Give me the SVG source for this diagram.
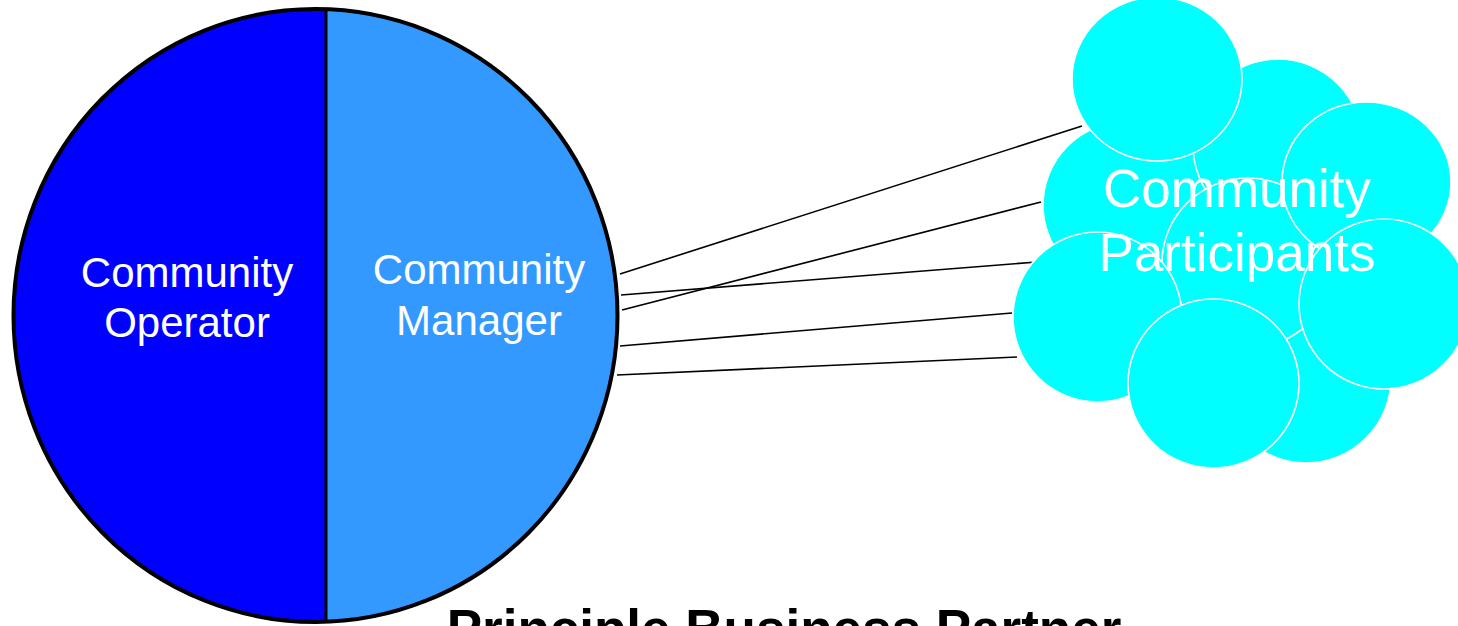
<svg xmlns="http://www.w3.org/2000/svg" width="1458" height="626" viewBox="0 0 1458 626">
  <style>
    .lbl { font-family: "Liberation Sans", Arial, sans-serif; fill: #FFFFFF; text-anchor: middle; }
    .bub { fill: #00FFFF; stroke: #FFFFFF; stroke-width: 1.6; }
    .conn { stroke: #000000; stroke-width: 1.6; fill: none; }
  </style>
  <defs>
    <clipPath id="mainClip">
      <ellipse cx="315.5" cy="315.5" rx="302" ry="306.5"/>
    </clipPath>
  </defs>
  <rect width="1458" height="626" fill="#FFFFFF"/>

  <g id="connectors">
    <line class="conn" x1="620" y1="274" x2="1082" y2="126"/>
    <line class="conn" x1="622" y1="310" x2="1041" y2="202"/>
    <line class="conn" x1="621" y1="295" x2="1037" y2="262"/>
    <line class="conn" x1="620" y1="346" x2="1012" y2="313"/>
    <line class="conn" x1="617" y1="375" x2="1017" y2="357"/>
  </g>

  <g id="node-business-partner">
    <g clip-path="url(#mainClip)">
      <rect x="0" y="0" width="326" height="626" fill="#0000FF"/>
      <rect x="326" y="0" width="300" height="626" fill="#3399FF"/>
    </g>
    <line x1="326" y1="9" x2="326" y2="622" stroke="#000000" stroke-width="3"/>
    <ellipse cx="315.5" cy="315.5" rx="302" ry="306.5" fill="none" stroke="#000000" stroke-width="4"/>
    <g id="node-operator">
      <text class="lbl" x="187" y="287" font-size="42">Community</text>
      <text class="lbl" x="187" y="337" font-size="42">Operator</text>
    </g>
    <g id="node-manager">
      <text class="lbl" x="479" y="284" font-size="42">Community</text>
      <text class="lbl" x="479" y="335" font-size="42">Manager</text>
    </g>
  </g>

  <g id="node-participants">
    <ellipse class="bub" cx="1306" cy="378" rx="85" ry="85"/>
    <ellipse class="bub" cx="1128" cy="205" rx="85" ry="84"/>
    <ellipse class="bub" cx="1278" cy="145" rx="85" ry="86"/>
    <ellipse class="bub" cx="1248" cy="263" rx="86" ry="85"/>
    <ellipse class="bub" cx="1097.5" cy="317" rx="84.5" ry="85"/>
    <ellipse class="bub" cx="1366.5" cy="182" rx="84.5" ry="80"/>
    <ellipse class="bub" cx="1384" cy="304" rx="85" ry="85"/>
    <ellipse class="bub" cx="1213.5" cy="383.5" rx="85.5" ry="84.5"/>
    <ellipse class="bub" cx="1157" cy="79" rx="85" ry="82"/>
    <text class="lbl" x="1237" y="207" font-size="53">Community</text>
    <text class="lbl" x="1237" y="271" font-size="53">Participants</text>
  </g>

  <g id="label-principle">
    <text x="784" y="647" font-family="'Liberation Sans', Arial, sans-serif" font-size="53" font-weight="bold" fill="#000000" text-anchor="middle">Principle Business Partner</text>
  </g>
</svg>
